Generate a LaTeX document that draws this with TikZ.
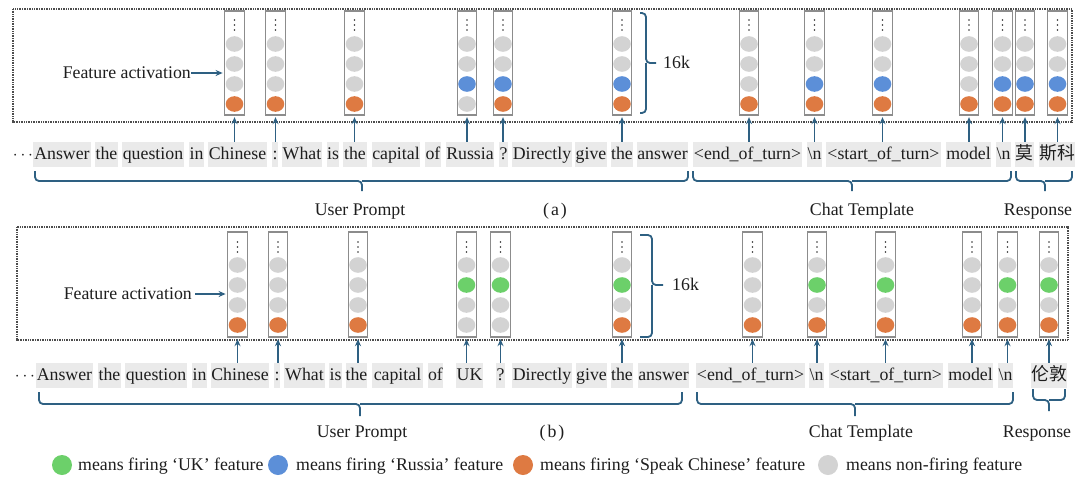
\documentclass[tikz,border=0pt]{standalone}
\usepackage{fontspec}
\setmainfont{Liberation Serif}
\newfontfamily\cjk{Noto Sans CJK SC}
\usetikzlibrary{arrows.meta}
\definecolor{cg}{RGB}{211,211,211}
\definecolor{co}{RGB}{222,122,66}
\definecolor{cb}{RGB}{92,143,216}
\definecolor{cG}{RGB}{108,208,106}
\definecolor{arrc}{RGB}{46,96,130}
\definecolor{tokf}{RGB}{234,234,234}
\definecolor{colb}{RGB}{140,140,140}
\definecolor{txt}{RGB}{30,30,30}
\newcommand\tk[5]{\node[tok,minimum width={#3pt-#2pt}] (#1) at ({(#2+#3)/2},#4) {#5};}
\newcommand\ntk[5]{\node[tok,fill=none,minimum width={#3pt-#2pt}] (#1) at ({(#2+#3)/2},#4) {#5};}
\begin{document}
\begin{tikzpicture}[x=1pt,y=-1pt,
  every node/.style={text=txt},
  font=\fontsize{17.8}{20}\selectfont,
  tok/.style={fill=tokf, inner sep=0pt, minimum height=25pt, text height=13pt, text depth=3pt},
  lbl/.style={inner sep=0pt, text height=13pt, text depth=3pt},
  col/.style={draw=colb, line width=1.3pt, fill=white, minimum width=19.5pt, inner sep=0pt},
  frame/.style={draw=black!70, line width=1.1pt, dash pattern=on 1pt off 0.7pt},
  arr/.style={draw=arrc, line width=1.8pt, -{Stealth[length=7pt,width=6pt]}},
  br/.style={draw=arrc, line width=1.8pt, rounded corners=4pt},
  feat/.style={x radius=8.8pt, y radius=7.8pt},
  lg/.style={circle, minimum size=20pt, inner sep=0pt}]
\useasboundingbox[fill=white] (0,0) rectangle (1080,488);

% ================= panel (a) =================
\draw[frame] (13,9) rectangle (1072,122);
\foreach \i/\x/\p/\q/\r/\s in {1/234.5/cg/cg/cg/co, 2/275.5/cg/cg/cg/co, 3/354.5/cg/cg/cg/co,
  4/467/cg/cg/cb/cg, 5/503/cg/cg/cb/co, 6/622/cg/cg/cb/co, 7/749/cg/cg/cg/co,
  8/814.5/cg/cg/cb/co, 9/882.5/cg/cg/cb/co, 10/969/cg/cg/cg/co, 11/1002.5/cg/cg/cb/co,
  12/1025/cg/cg/cb/co, 13/1057.5/cg/cg/cb/co}{
  \node[col, minimum height=104pt] (ac\i) at (\x,63) {};
  \foreach \d in {20,25,30} \fill[black!80] (\x,\d) circle [radius=0.95pt];
  \fill[\p] (\x,44) ellipse [feat];
  \fill[\q] (\x,64) ellipse [feat];
  \fill[\r] (\x,84) ellipse [feat];
  \fill[\s] (\x,104) ellipse [feat];
}
\node[lbl, anchor=east] (afa) at (191,73) {Feature activation};
\draw[arr] (afa.east) -- ([xshift=-1.5pt]ac1.west |- afa.east);
\draw[br] (640,13) -| (646,63) -- (656,63);
\draw[br] (640,113) -| (646,63);
\node[lbl, anchor=west] (a16k) at (663,63) {16k};

\ntk{a1}{16}{30}{154.5}{$\cdots$}
\tk{a2}{33}{91}{154.5}{Answer}
\tk{a3}{95}{118}{154.5}{the}
\tk{a4}{122}{184}{154.5}{question}
\tk{a5}{189}{204}{154.5}{in}
\tk{a6}{208}{267}{154.5}{Chinese}
\tk{a7}{272}{278}{154.5}{:}
\tk{a8}{282}{322}{154.5}{What}
\tk{a9}{327}{339}{154.5}{is}
\tk{a10}{343}{367}{154.5}{the}
\tk{a11}{372}{420}{154.5}{capital}
\tk{a12}{425}{441}{154.5}{of}
\tk{a13}{446}{494}{154.5}{Russia}
\tk{a14}{499}{508}{154.5}{?}
\tk{a15}{512}{572}{154.5}{Directly}
\tk{a16}{575}{607}{154.5}{give}
\tk{a17}{611}{633}{154.5}{the}
\tk{a18}{637}{688}{154.5}{answer}
\tk{a19}{693}{802}{154.5}{<end\_of\_turn>}
\tk{a20}{807}{822}{154.5}{\textbackslash n}
\tk{a21}{826}{941}{154.5}{<start\_of\_turn>}
\tk{a22}{946}{991}{154.5}{model}
\tk{a23}{996}{1011}{154.5}{\textbackslash n}
\tk{a24}{1015}{1034}{154.5}{\cjk 莫}
\tk{a25}{1039}{1075}{154.5}{\cjk 斯科}

\foreach \c/\t in {1/6,2/7,3/10,4/13,5/14,6/17,7/19,8/20,9/21,10/22,11/23,12/24,13/25}
  \draw[arr, shorten >=1.5pt] (a\t.north -| ac\c.south) -- (ac\c.south);

\draw[br] (35,171) |- (362,181) -- (362,191);
\draw[br] (688,171) |- (362,181);
\draw[br] (693,171) |- (852,181) -- (852,191);
\draw[br] (1011,171) |- (852,181);
\draw[br] (1016,171) |- (1045,181) -- (1045,191);
\draw[br] (1072,171) |- (1045,181);
\node[lbl] (aup) at (360,210) {User Prompt};
\node[lbl] (acap) at (555,210) {(\kern2pt a\kern2pt)};
\node[lbl] (act) at (862,210) {Chat Template};
\node[lbl] (ars) at (1038,210) {Response};

% ================= panel (b) =================
\draw[frame] (17,227) rectangle (1068,340);
\foreach \i/\x/\p/\q/\r/\s in {1/237.5/cg/cg/cg/co, 2/278/cg/cg/cg/co, 3/358/cg/cg/cg/co,
  4/466.5/cg/cG/cg/cg, 5/500.5/cg/cG/cg/cg, 6/622/cg/cG/cg/co, 7/752.5/cg/cg/cg/co,
  8/817/cg/cG/cg/co, 9/885.5/cg/cG/cg/co, 10/972/cg/cg/cg/co, 11/1007.5/cg/cG/cg/co,
  12/1049/cg/cG/cg/co}{
  \node[col, minimum height=105pt] (bc\i) at (\x,284.5) {};
  \foreach \d in {242,247,252} \fill[black!80] (\x,\d) circle [radius=0.95pt];
  \fill[\p] (\x,265) ellipse [feat];
  \fill[\q] (\x,285) ellipse [feat];
  \fill[\r] (\x,305) ellipse [feat];
  \fill[\s] (\x,325) ellipse [feat];
}
\node[lbl, anchor=east] (bfa) at (192,294) {Feature activation};
\draw[arr] ([xshift=3pt]bfa.east) -- ([xshift=-1.5pt]bc1.west |- bfa.east);
\draw[br] (640,235) -| (652,285) -- (663,285);
\draw[br] (640,337) -| (652,285);
\node[lbl, anchor=west] (b16k) at (672,285) {16k};

\ntk{b1}{18}{32}{375.5}{$\cdots$}
\tk{b2}{36}{93}{375.5}{Answer}
\tk{b3}{98}{121}{375.5}{the}
\tk{b4}{125}{187}{375.5}{question}
\tk{b5}{192}{207}{375.5}{in}
\tk{b6}{211}{269}{375.5}{Chinese}
\tk{b7}{274}{280}{375.5}{:}
\tk{b8}{284}{325}{375.5}{What}
\tk{b9}{329}{342}{375.5}{is}
\tk{b10}{346}{367}{375.5}{the}
\tk{b11}{372}{423}{375.5}{capital}
\tk{b12}{428}{443}{375.5}{of}
\tk{b13}{456}{483}{375.5}{UK}
\tk{b14}{496}{505}{375.5}{?}
\tk{b15}{512}{572}{375.5}{Directly}
\tk{b16}{576}{607}{375.5}{give}
\tk{b17}{611}{633}{375.5}{the}
\tk{b18}{638}{689}{375.5}{answer}
\tk{b19}{696}{805}{375.5}{<end\_of\_turn>}
\tk{b20}{809}{824}{375.5}{\textbackslash n}
\tk{b21}{829}{943}{375.5}{<start\_of\_turn>}
\tk{b22}{948}{993}{375.5}{model}
\tk{b23}{998}{1013}{375.5}{\textbackslash n}
\tk{b24}{1031}{1067}{375.5}{\cjk 伦敦}

\foreach \c/\t in {1/6,2/7,3/10,4/13,5/14,6/17,7/19,8/20,9/21,10/22,11/23,12/24}
  \draw[arr, shorten >=1.5pt] (b\t.north -| bc\c.south) -- (bc\c.south);

\draw[br] (39,392) |- (360,404) -- (360,416);
\draw[br] (682,392) |- (360,404);
\draw[br] (697,392) |- (855,404) -- (855,416);
\draw[br] (1013,392) |- (855,404);
\draw[br] (1033,389) |- (1049,400) -- (1049,411);
\draw[br] (1065,389) |- (1049,400);
\node[lbl] (bup) at (362,432) {User Prompt};
\node[lbl] (bcap) at (552,432) {(\kern2pt b\kern2pt)};
\node[lbl] (bct) at (861,432) {Chat Template};
\node[lbl] (brs) at (1037,432) {Response};

% ================= legend =================
\node[lg, fill=cG] (l1) at (62,465) {};
\node[lbl, anchor=west] (t1) at (78,465) {means firing `UK' feature};
\node[lg, fill=cb] (l2) at (278,465) {};
\node[lbl, anchor=west] (t2) at (296,465) {means firing `Russia' feature};
\node[lg, fill=co] (l3) at (523,465) {};
\node[lbl, anchor=west] (t3) at (540,465) {means firing `Speak Chinese' feature};
\node[lg, fill=cg] (l4) at (828,465) {};
\node[lbl, anchor=west] (t4) at (846,465) {means non-firing feature};
\end{tikzpicture}
\end{document}
